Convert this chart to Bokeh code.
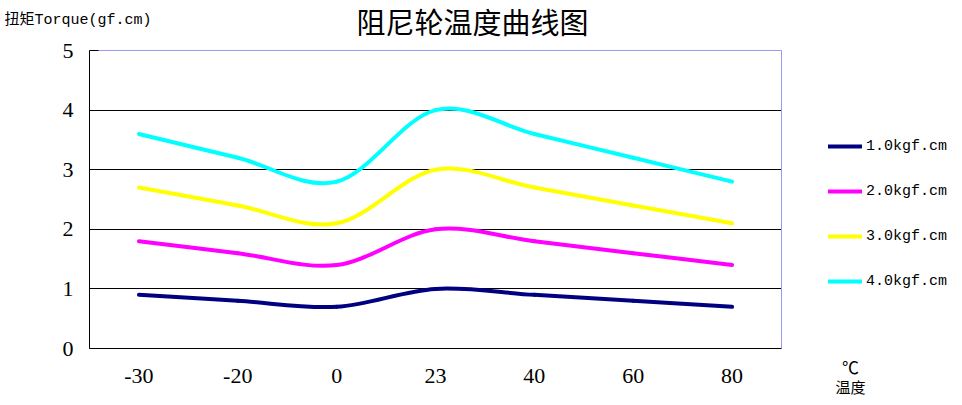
from bokeh.plotting import figure
from bokeh.models import Range1d, FixedTicker, Label, Legend, LegendItem, Grid
from bokeh.embed import file_html
from bokeh.resources import INLINE

# ---- data ----
categories = ["-30", "-20", "0", "23", "40", "60", "80"]
series_names = ["1.0kgf.cm", "2.0kgf.cm", "3.0kgf.cm", "4.0kgf.cm"]
s1 = [0.9, 0.8, 0.7, 1.0, 0.9, 0.8, 0.7]
s2 = [1.8, 1.6, 1.4, 2.0, 1.8, 1.6, 1.4]
s3 = [2.7, 2.4, 2.1, 3.0, 2.7, 2.4, 2.1]
s4 = [3.6, 3.2, 2.8, 4.0, 3.6, 3.2, 2.8]
y_ticks = [0, 1, 2, 3, 4, 5]
grid_ticks = [1, 2, 3, 4]
title_text = "阻尼轮温度曲线图"
y_title = "扭矩Torque(gf.cm)"
x_unit = "℃"
x_title = "温度"

series = [s1, s2, s3, s4]
colors = ["#000080", "#FF00FF", "#FFFF00", "#00FFFF"]
border_color = "#9999EE"

# ---- geometry (pixels) ----
W, H = 960, 400
PL, PT = 89, 50          # plot area left / top
PW, PH = 692, 298        # plot area width / height
ncat = len(categories)
ymax = y_ticks[-1]
xu = PW / ncat           # px per category
yu = PH / ymax           # px per y unit

x_lo, x_hi = -0.5, ncat - 0.5
x_start = x_lo - PL / xu
x_end = x_lo + (W - PL) / xu
y_start = -(H - PT - PH) / yu
y_end = ymax + PT / yu

p = figure(width=W, height=H, output_backend="svg", toolbar_location=None,
           x_range=Range1d(x_start, x_end), y_range=Range1d(y_start, y_end),
           min_border=0, min_border_left=0, min_border_right=0,
           min_border_top=0, min_border_bottom=0)
p.outline_line_color = None
p.background_fill_color = "white"
p.border_fill_color = "white"

xs = list(range(ncat))

# axes drawn at fixed locations so the whole canvas is the frame
p.xaxis.fixed_location = 0
p.xaxis.bounds = (x_lo, x_hi)
p.yaxis.fixed_location = x_lo
p.yaxis.bounds = (0, ymax)
p.xaxis.ticker = FixedTicker(ticks=xs)
p.xaxis.major_label_overrides = {i: c for i, c in enumerate(categories)}
p.yaxis.ticker = FixedTicker(ticks=y_ticks)
for ax in (p.xaxis[0], p.yaxis[0]):
    ax.axis_line_color = "black"
    ax.axis_line_width = 1
    ax.major_tick_out = 0
    ax.major_tick_in = 0
    ax.minor_tick_out = 0
    ax.minor_tick_in = 0
    ax.major_label_text_font = "Liberation Serif"
    ax.major_label_text_font_size = "22px"
    ax.major_label_text_color = "black"
p.yaxis.major_tick_in = 9
p.yaxis.major_tick_line_color = "black"
p.xaxis.major_label_standoff = 20
p.yaxis.major_label_standoff = 16

p.xgrid.visible = False
has_cb = "cross_bounds" in Grid.properties()
if has_cb:
    p.ygrid.ticker = FixedTicker(ticks=grid_ticks)
    p.ygrid.cross_bounds = (x_lo, x_hi)
    p.ygrid.grid_line_color = "black"
    p.ygrid.grid_line_width = 1
    p.add_layout(Grid(dimension=1, ticker=FixedTicker(ticks=[ymax]),
                      cross_bounds=(x_lo, x_hi),
                      grid_line_color=border_color, grid_line_width=1))
    p.add_layout(Grid(dimension=0, ticker=FixedTicker(ticks=[x_hi]),
                      cross_bounds=(0, ymax),
                      grid_line_color=border_color, grid_line_width=1))
else:
    p.ygrid.visible = False
    p.segment(x0=[x_lo] * len(grid_ticks), x1=[x_hi] * len(grid_ticks),
              y0=grid_ticks, y1=grid_ticks, line_color="black", line_width=1)
    p.segment(x0=[x_lo, x_hi], x1=[x_hi, x_hi], y0=[ymax, 0], y1=[ymax, ymax],
              line_color=border_color, line_width=1)

# smoothed curves (Catmull-Rom style bezier through the data points)
items = []
for vals, col, name in zip(series, colors, series_names):
    n = len(vals)
    x0, y0, x1, y1, cx0, cy0, cx1, cy1 = [], [], [], [], [], [], [], []
    for i in range(n - 1):
        pa = i - 1 if i > 0 else i
        pd = i + 2 if i + 2 < n else i + 1
        x0.append(xs[i]); y0.append(vals[i])
        x1.append(xs[i + 1]); y1.append(vals[i + 1])
        cx0.append(xs[i] + (xs[i + 1] - xs[pa]) / 6.0)
        cy0.append(vals[i] + (vals[i + 1] - vals[pa]) / 6.0)
        cx1.append(xs[i + 1] - (xs[pd] - xs[i]) / 6.0)
        cy1.append(vals[i + 1] - (vals[pd] - vals[i]) / 6.0)
    r = p.bezier(x0=x0, y0=y0, x1=x1, y1=y1, cx0=cx0, cy0=cy0, cx1=cx1, cy1=cy1,
                 line_color=col, line_width=4, line_cap="round")
    items.append(LegendItem(label=name, renderers=[r], index=0))

legend = Legend(items=items, location=(828, 109), margin=0, padding=0,
                spacing=25, glyph_width=34, glyph_height=20, label_height=20,
                label_standoff=4, label_text_font="Liberation Mono",
                label_text_font_size="15px", label_text_color="black",
                border_line_alpha=0, background_fill_alpha=0)
p.add_layout(legend, "center")

def xpage(px):
    return x_start + px / xu

def ypage(py):
    return y_end - py / yu

p.add_layout(Label(x=xpage(472), y=ypage(20), text=title_text, text_align="center",
                   text_baseline="middle", text_font="Noto Sans CJK SC",
                   text_font_size="29px", text_color="black"))
p.add_layout(Label(x=xpage(4), y=ypage(20), text=y_title, text_align="left",
                   text_baseline="middle", text_font="Liberation Mono, Noto Sans CJK SC",
                   text_font_size="15px", text_color="black"))
p.add_layout(Label(x=xpage(850), y=ypage(366), text=x_unit, text_align="center",
                   text_baseline="middle", text_font="Noto Sans CJK SC",
                   text_font_size="17px", text_color="black"))
p.add_layout(Label(x=xpage(850), y=ypage(386), text=x_title, text_align="center",
                   text_baseline="middle", text_font="Noto Sans CJK SC",
                   text_font_size="15px", text_color="black"))

open("out.html", "w").write(file_html(p, INLINE))
